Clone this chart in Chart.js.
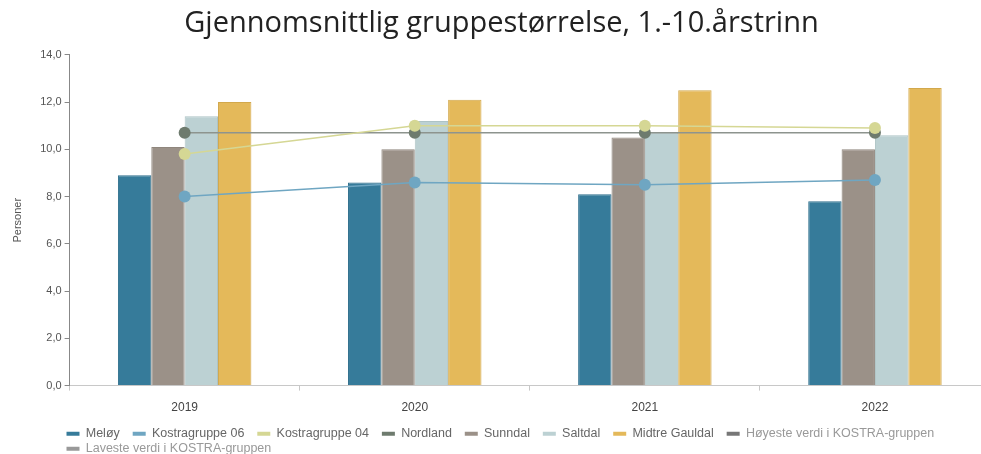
<!DOCTYPE html>
<html>
<head>
<meta charset="utf-8">
<script src="https://cdn.jsdelivr.net/npm/chart.js@4.4.0/dist/chart.umd.min.js"></script>
<style>
  html, body { margin: 0; padding: 0; background: #fff; overflow: hidden; }
  #wrap { width: 981px; height: 454px; position: relative; overflow: hidden; }
</style>
</head>
<body>
<!-- the original crops the plot on the right, so the canvas runs a bit past the window -->
<div id="wrap"><canvas id="chart" width="996" height="454"></canvas></div>
<script>
const years = ["2019", "2020", "2021", "2022"];

const meloy = [8.9, 8.6, 8.1, 7.8];
const sunndal = [10.1, 10.0, 10.5, 10.0];
const saltdal = [11.4, 11.2, 10.7, 10.6];
const midtreGauldal = [12.0, 12.1, 12.5, 12.6];
const kostra06 = [8.0, 8.6, 8.5, 8.7];
const kostra04 = [9.8, 11.0, 11.0, 10.9];
const nordland = [10.7, 10.7, 10.7, 10.7];
const hoyeste = [];
const laveste = [];

const yTicks = [0, 2, 4, 6, 8, 10, 12, 14];

const colors = {
  meloy: "#367b9a",
  kostra06: "#6fa6c2",
  kostra04: "#d5d794",
  nordland: "#6e7b6e",
  sunndal: "#9b9188",
  saltdal: "#bcd1d3",
  midtre: "#e4b95a",
  hoyeste: "#777777",
  laveste: "#999999",
};

function barSet(label, data, color, border) {
  return {
    type: "bar",
    label,
    data,
    backgroundColor: color,
    borderColor: border,
    borderWidth: 1,
    order: 2,
  };
}

function lineSet(label, data, color, pointColor) {
  return {
    type: "line",
    label,
    data,
    borderColor: color,
    backgroundColor: pointColor,
    pointBackgroundColor: pointColor,
    pointBorderWidth: 0,
    pointRadius: 6,
    borderWidth: 1.5,
    fill: false,
    tension: 0,
    order: 1,
  };
}

const datasets = [
  barSet("Meløy", meloy, colors.meloy, "#2f6f8c"),
  lineSet("Kostragruppe 06", kostra06, colors.kostra06, colors.kostra06),
  lineSet("Kostragruppe 04", kostra04, colors.kostra04, colors.kostra04),
  lineSet("Nordland", nordland, "#8d948e", colors.nordland),
  barSet("Sunndal", sunndal, colors.sunndal, "#8f867d"),
  barSet("Saltdal", saltdal, colors.saltdal, "#adc3c5"),
  barSet("Midtre Gauldal", midtreGauldal, colors.midtre, "#d2a84c"),
  lineSet("Høyeste verdi i KOSTRA-gruppen", hoyeste, colors.hoyeste, colors.hoyeste),
  lineSet("Laveste verdi i KOSTRA-gruppen", laveste, colors.laveste, colors.laveste),
];

const legendColors = [
  colors.meloy, colors.kostra06, colors.kostra04, colors.nordland,
  colors.sunndal, colors.saltdal, colors.midtre, colors.hoyeste, colors.laveste,
];

// legend sits indented under the plot; title nudged to match the original
const boxShift = {
  id: "boxShift",
  afterLayout(chart) {
    chart.legend.left += 53;
    chart.legend.right += 53;
    chart.titleBlock.left -= 2;
    chart.titleBlock.right -= 2;
  },
};

new Chart(document.getElementById("chart"), {
  data: { labels: years, datasets },
  plugins: [boxShift],
  options: {
    responsive: false,
    animation: false,
    layout: { padding: { left: 11, right: 0, top: 4, bottom: -11 } },
    datasets: {
      bar: { barPercentage: 1.0, categoryPercentage: 0.58 },
    },
    scales: {
      x: {
        offset: true,
        grid: { display: true, drawOnChartArea: false, offset: true, tickLength: 5, color: "#c8c8c8" },
        border: { display: true, color: "#c8c8c8" },
        ticks: { color: "#444", font: { family: "Liberation Sans", size: 12 }, padding: 10 },
      },
      y: {
        min: 0,
        max: 14,
        afterBuildTicks: (axis) => { axis.ticks = yTicks.map((v) => ({ value: v })); },
        grid: { display: true, drawOnChartArea: false, tickLength: 5, color: "#888" },
        border: { display: true, color: "#888" },
        title: {
          display: true,
          text: "Personer",
          color: "#555",
          font: { family: "Liberation Sans", size: 11 },
          padding: { top: 0, bottom: 13 },
        },
        ticks: {
          color: "#555",
          font: { family: "Liberation Sans", size: 11 },
          padding: 3,
          callback: (v) => Number(v).toFixed(1).replace(".", ","),
        },
      },
    },
    plugins: {
      title: {
        display: true,
        text: "Gjennomsnittlig gruppestørrelse, 1.-10.årstrinn",
        color: "#222",
        font: { family: "Open Sans", size: 29, weight: "normal" },
        padding: { top: 2, bottom: 14 },
      },
      legend: {
        position: "bottom",
        align: "start",
        labels: {
          boxWidth: 13,
          boxHeight: 4,
          padding: 2.5,
          font: { family: "Liberation Sans", size: 12.5 },
          generateLabels: (chart) => chart.data.datasets.map((ds, i) => ({
            text: ds.label + "   ",
            fillStyle: legendColors[i],
            strokeStyle: legendColors[i],
            lineWidth: 0,
            fontColor: i >= 7 ? "#999" : "#666",
            datasetIndex: i,
            hidden: false,
          })),
        },
      },
      tooltip: { enabled: false },
    },
  },
});
</script>
</body>
</html>
